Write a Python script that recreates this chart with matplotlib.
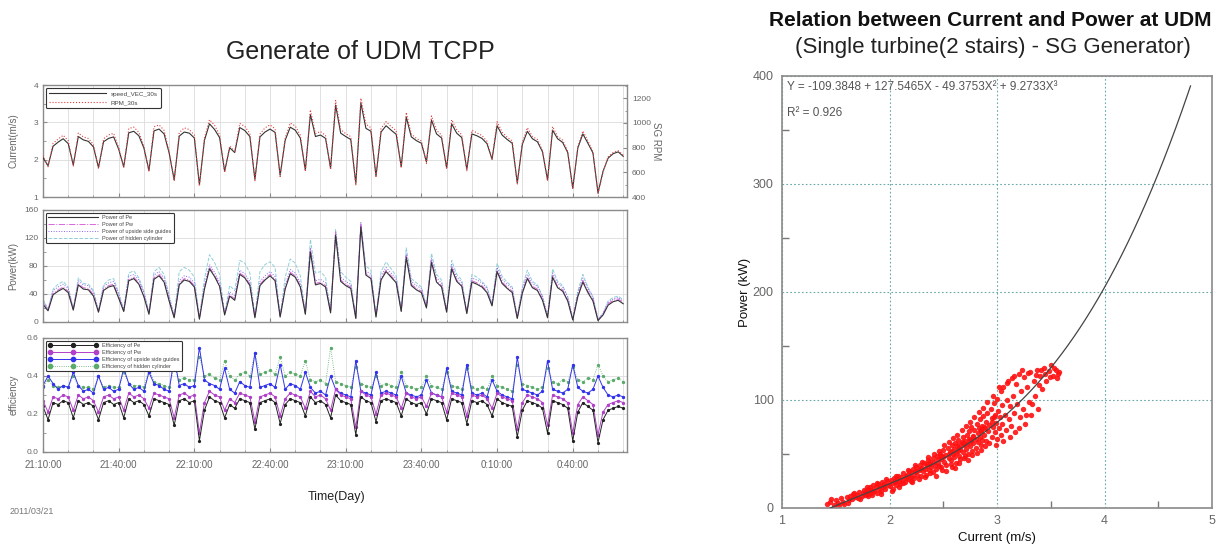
import numpy as np
import matplotlib
matplotlib.use("Agg")
import matplotlib.pyplot as plt
from matplotlib.ticker import MultipleLocator, FixedLocator, FixedFormatter

plt.rcParams['font.family'] = ['Liberation Sans', 'DejaVu Sans']

# ---------------------------------------------------------------- data
# 2-minute samples starting at 21:10:00 on 2011/03/21
step_min = 2
time_ticks = [0, 30, 60, 90, 120, 150, 180, 210]
time_labels = ["21:10:00", "21:40:00", "22:10:00", "22:40:00",
               "23:10:00", "23:40:00", "0:10:00", "0:40:00"]

current = [2.05, 1.84, 2.36, 2.47, 2.56, 2.43, 1.86, 2.62, 2.53, 2.49,
           2.34, 1.79, 2.48, 2.57, 2.61, 2.28, 1.81, 2.72, 2.76, 2.64,
           2.31, 1.71, 2.77, 2.82, 2.69, 2.18, 1.46, 2.63, 2.74, 2.71,
           2.58, 1.33, 2.52, 2.96, 2.81, 2.59, 1.69, 2.32, 2.19, 2.86,
           2.78, 2.62, 1.47, 2.61, 2.74, 2.82, 2.73, 1.58, 2.52, 2.87,
           2.79, 2.58, 1.72, 3.21, 2.62, 2.66, 2.57, 1.77, 3.46, 2.71,
           2.62, 2.54, 1.36, 3.52, 2.84, 2.76, 1.56, 2.74, 2.91, 2.79,
           2.68, 1.81, 3.14, 2.61, 2.51, 2.44, 1.94, 3.06, 2.69, 2.58,
           1.78, 2.96, 2.71, 2.59, 1.74, 2.69, 2.64, 2.57, 2.43, 2.01,
           2.91, 2.66, 2.54, 2.44, 1.38, 2.41, 2.76, 2.56, 2.48, 2.21,
           1.46, 2.79, 2.56, 2.46, 2.19, 1.24, 2.31, 2.69, 2.44, 2.18,
           1.11, 1.69, 2.04, 2.16, 2.21, 2.09]

rpm = [735, 645, 835, 868, 900, 856, 650, 918, 886, 874,
       824, 628, 871, 903, 915, 801, 636, 954, 966, 924,
       810, 604, 969, 984, 940, 766, 528, 921, 960, 946,
       901, 488, 878, 1026, 981, 904, 598, 813, 769, 996,
       972, 913, 532, 910, 960, 984, 952, 565, 878, 999,
       975, 901, 607, 1106, 913, 930, 898, 622, 1182, 946,
       913, 889, 498, 1200, 990, 961, 558, 955, 1011, 970,
       937, 634, 1085, 910, 875, 854, 673, 1056, 940, 901,
       625, 1026, 946, 904, 613, 940, 919, 898, 851, 700,
       1011, 925, 884, 854, 505, 840, 961, 890, 866, 775,
       529, 970, 890, 860, 769, 462, 805, 935, 854, 766,
       425, 600, 724, 760, 775, 739]

power_pe = [25, 16, 39, 44, 48, 42, 17, 53, 47, 46,
            37, 14, 45, 50, 52, 34, 15, 59, 62, 54,
            36, 11, 61, 66, 57, 30, 6, 53, 60, 58,
            50, 4, 47, 76, 65, 51, 10, 37, 31, 68,
            63, 52, 6, 52, 60, 66, 59, 7, 47, 69,
            64, 50, 11, 100, 53, 55, 50, 13, 124, 58,
            52, 48, 5, 136, 67, 62, 7, 60, 72, 64,
            56, 15, 92, 52, 46, 42, 20, 85, 57, 50,
            14, 76, 58, 51, 12, 57, 54, 50, 42, 23,
            72, 55, 48, 42, 5, 41, 62, 49, 45, 31,
            6, 64, 49, 44, 30, 3, 36, 57, 42, 30,
            2, 10, 24, 29, 31, 26]

power_pw = [27, 17, 41, 46, 50, 44, 18, 55, 49, 48,
            39, 15, 47, 52, 54, 36, 16, 61, 64, 56,
            38, 12, 63, 68, 59, 32, 7, 55, 62, 60,
            52, 5, 49, 78, 67, 53, 11, 39, 33, 70,
            65, 54, 7, 54, 62, 68, 61, 8, 49, 71,
            66, 52, 12, 104, 55, 57, 52, 14, 128, 60,
            54, 50, 6, 140, 69, 64, 8, 62, 74, 66,
            58, 16, 95, 54, 48, 44, 21, 88, 59, 52,
            15, 78, 60, 53, 13, 59, 56, 52, 44, 24,
            74, 57, 50, 44, 6, 43, 64, 51, 47, 33,
            7, 66, 51, 46, 32, 4, 38, 59, 44, 32,
            3, 11, 26, 31, 33, 28]

power_guide = [31, 18, 45, 50, 54, 48, 19, 59, 53, 52,
               43, 16, 51, 56, 58, 40, 17, 65, 68, 60,
               42, 13, 67, 72, 63, 36, 8, 59, 66, 64,
               56, 6, 53, 82, 71, 57, 12, 43, 37, 74,
               69, 58, 8, 58, 66, 72, 65, 9, 53, 75,
               70, 56, 13, 106, 59, 61, 56, 15, 130, 64,
               58, 54, 7, 142, 73, 68, 9, 66, 78, 70,
               62, 17, 98, 58, 52, 48, 22, 91, 63, 56,
               16, 82, 64, 57, 14, 63, 60, 56, 48, 25,
               78, 61, 54, 48, 7, 47, 68, 55, 51, 37,
               8, 70, 55, 50, 36, 5, 42, 63, 48, 36,
               4, 12, 28, 33, 35, 30]

power_hidden = [33, 18, 47, 54, 58, 50, 19, 63, 55, 54,
                45, 16, 53, 60, 62, 42, 17, 70, 73, 63,
                44, 13, 72, 78, 68, 38, 8, 72, 78, 74,
                64, 6, 62, 96, 85, 68, 12, 52, 45, 88,
                84, 70, 8, 72, 82, 86, 78, 9, 64, 90,
                84, 66, 13, 118, 70, 72, 64, 15, 132, 72,
                64, 58, 7, 140, 80, 74, 9, 72, 86, 76,
                66, 17, 106, 62, 56, 50, 22, 98, 68, 60,
                16, 88, 68, 60, 14, 68, 64, 58, 50, 26,
                84, 65, 57, 50, 7, 50, 74, 58, 53, 37,
                8, 76, 58, 52, 36, 5, 44, 68, 50, 36,
                4, 12, 30, 35, 37, 32]

eff_pe = [0.24, 0.17, 0.26, 0.25, 0.27, 0.26, 0.18, 0.27, 0.25, 0.26,
          0.24, 0.17, 0.26, 0.27, 0.25, 0.26, 0.18, 0.28, 0.26, 0.27,
          0.25, 0.19, 0.28, 0.27, 0.26, 0.25, 0.14, 0.27, 0.28, 0.26,
          0.27, 0.06, 0.22, 0.29, 0.27, 0.26, 0.18, 0.25, 0.23, 0.28,
          0.27, 0.26, 0.12, 0.26, 0.27, 0.28, 0.26, 0.15, 0.25, 0.28,
          0.27, 0.26, 0.19, 0.29, 0.26, 0.27, 0.25, 0.18, 0.30, 0.27,
          0.26, 0.25, 0.09, 0.29, 0.27, 0.26, 0.16, 0.27, 0.28, 0.27,
          0.26, 0.19, 0.28, 0.26, 0.25, 0.26, 0.20, 0.28, 0.27, 0.26,
          0.17, 0.28, 0.27, 0.26, 0.15, 0.27, 0.26, 0.27, 0.25, 0.19,
          0.28, 0.26, 0.25, 0.24, 0.08, 0.22, 0.27, 0.26, 0.25, 0.23,
          0.10, 0.27, 0.26, 0.25, 0.23, 0.06, 0.21, 0.26, 0.24, 0.22,
          0.05, 0.17, 0.22, 0.23, 0.24, 0.23]

eff_pw = [0.27, 0.21, 0.29, 0.28, 0.30, 0.29, 0.22, 0.30, 0.28, 0.29,
          0.27, 0.21, 0.29, 0.30, 0.28, 0.29, 0.22, 0.31, 0.29, 0.30,
          0.28, 0.23, 0.31, 0.30, 0.29, 0.28, 0.18, 0.30, 0.31, 0.29,
          0.30, 0.10, 0.26, 0.32, 0.30, 0.29, 0.22, 0.28, 0.26, 0.31,
          0.30, 0.29, 0.16, 0.29, 0.30, 0.31, 0.29, 0.19, 0.28, 0.31,
          0.30, 0.29, 0.23, 0.32, 0.29, 0.30, 0.28, 0.22, 0.33, 0.30,
          0.29, 0.28, 0.13, 0.32, 0.30, 0.29, 0.20, 0.30, 0.31, 0.30,
          0.29, 0.23, 0.31, 0.29, 0.28, 0.29, 0.24, 0.31, 0.30, 0.29,
          0.21, 0.31, 0.30, 0.29, 0.19, 0.30, 0.29, 0.30, 0.28, 0.23,
          0.31, 0.29, 0.28, 0.27, 0.12, 0.26, 0.30, 0.29, 0.28, 0.26,
          0.14, 0.30, 0.29, 0.28, 0.26, 0.10, 0.25, 0.29, 0.27, 0.25,
          0.09, 0.21, 0.25, 0.26, 0.27, 0.26]

eff_guide = [0.35, 0.40, 0.36, 0.33, 0.35, 0.34, 0.42, 0.35, 0.32, 0.33,
             0.31, 0.40, 0.33, 0.34, 0.32, 0.33, 0.44, 0.36, 0.33, 0.34,
             0.32, 0.42, 0.36, 0.35, 0.33, 0.32, 0.50, 0.35, 0.36, 0.34,
             0.35, 0.55, 0.38, 0.36, 0.35, 0.33, 0.44, 0.33, 0.31, 0.37,
             0.35, 0.34, 0.52, 0.34, 0.35, 0.36, 0.34, 0.46, 0.33, 0.36,
             0.35, 0.33, 0.42, 0.34, 0.31, 0.32, 0.30, 0.40, 0.33, 0.31,
             0.30, 0.29, 0.48, 0.32, 0.31, 0.30, 0.42, 0.31, 0.32, 0.31,
             0.30, 0.40, 0.31, 0.30, 0.29, 0.30, 0.38, 0.31, 0.30, 0.29,
             0.44, 0.32, 0.31, 0.30, 0.46, 0.31, 0.30, 0.31, 0.29, 0.38,
             0.32, 0.30, 0.29, 0.28, 0.50, 0.33, 0.32, 0.31, 0.30, 0.32,
             0.48, 0.33, 0.32, 0.31, 0.33, 0.46, 0.34, 0.32, 0.31, 0.33,
             0.40, 0.34, 0.30, 0.29, 0.30, 0.29]

eff_hidden = [0.34, 0.38, 0.35, 0.34, 0.35, 0.34, 0.40, 0.35, 0.34, 0.34,
              0.33, 0.40, 0.34, 0.35, 0.34, 0.34, 0.42, 0.36, 0.35, 0.35,
              0.34, 0.44, 0.37, 0.36, 0.35, 0.34, 0.45, 0.38, 0.39, 0.38,
              0.38, 0.50, 0.40, 0.41, 0.39, 0.38, 0.48, 0.40, 0.38, 0.41,
              0.42, 0.40, 0.52, 0.41, 0.42, 0.43, 0.41, 0.50, 0.40, 0.42,
              0.41, 0.40, 0.48, 0.38, 0.37, 0.38, 0.36, 0.55, 0.37, 0.36,
              0.35, 0.34, 0.45, 0.36, 0.35, 0.34, 0.40, 0.35, 0.36, 0.35,
              0.34, 0.42, 0.35, 0.34, 0.33, 0.34, 0.40, 0.35, 0.34, 0.33,
              0.42, 0.35, 0.34, 0.33, 0.44, 0.34, 0.33, 0.34, 0.33, 0.40,
              0.35, 0.34, 0.33, 0.32, 0.46, 0.36, 0.35, 0.34, 0.33, 0.34,
              0.44, 0.37, 0.36, 0.38, 0.37, 0.45, 0.38, 0.37, 0.39, 0.38,
              0.46, 0.40, 0.37, 0.38, 0.39, 0.37]

# measured (current m/s, power kW) pairs used for the regression
survey_pairs = [
    (1.42, 4), (1.45, 6), (1.48, 3), (1.50, 7), (1.52, 5), (1.55, 9), (1.57, 6),
    (1.58, 4), (1.60, 10), (1.62, 7),
    (1.63, 11), (1.65, 8), (1.66, 13), (1.68, 10), (1.70, 12), (1.71, 9), (1.72, 15),
    (1.74, 11), (1.75, 14), (1.76, 17), (1.77, 12), (1.78, 16), (1.79, 13), (1.80, 18),
    (1.80, 11),
    (1.81, 15), (1.82, 19), (1.83, 14), (1.84, 17), (1.85, 21), (1.86, 16), (1.87, 19),
    (1.88, 14), (1.89, 22), (1.90, 18), (1.91, 20), (1.92, 16), (1.93, 24), (1.94, 19),
    (1.95, 22), (1.96, 18), (1.98, 25), (1.99, 21),
    (2.00, 20), (2.01, 26), (2.02, 23), (2.03, 18), (2.04, 28), (2.05, 24), (2.06, 21),
    (2.07, 27), (2.08, 30), (2.09, 25), (2.10, 22), (2.11, 29), (2.12, 26), (2.13, 32),
    (2.14, 24), (2.15, 28), (2.16, 31), (2.17, 27), (2.18, 34), (2.19, 29), (2.20, 25),
    (2.20, 33),
    (2.21, 30), (2.22, 36), (2.23, 28), (2.24, 33), (2.25, 38), (2.26, 31), (2.27, 35),
    (2.28, 40), (2.29, 30), (2.30, 37), (2.31, 34), (2.32, 42), (2.33, 36), (2.34, 31),
    (2.35, 39), (2.36, 44), (2.37, 35), (2.38, 41), (2.39, 38), (2.40, 46), (2.40, 33),
    (2.41, 43), (2.42, 40), (2.43, 36), (2.44, 48),
    (2.45, 42), (2.46, 39), (2.47, 50), (2.48, 45), (2.49, 35), (2.50, 47), (2.50, 54),
    (2.51, 43), (2.52, 49), (2.53, 40), (2.54, 56), (2.55, 46), (2.56, 52), (2.57, 44),
    (2.58, 58), (2.58, 38), (2.59, 50), (2.60, 55), (2.60, 47), (2.61, 60), (2.62, 51),
    (2.62, 42), (2.63, 57), (2.64, 53), (2.64, 63), (2.65, 48), (2.65, 58), (2.66, 45),
    (2.66, 55), (2.67, 61),
    (2.68, 52), (2.68, 66), (2.69, 58), (2.70, 48), (2.70, 62), (2.71, 55), (2.72, 68),
    (2.72, 59), (2.73, 50), (2.74, 64), (2.74, 71), (2.75, 57), (2.76, 62), (2.76, 75),
    (2.77, 53), (2.78, 67), (2.78, 60), (2.79, 72), (2.80, 64), (2.80, 56), (2.81, 78),
    (2.82, 69), (2.82, 61), (2.83, 74), (2.84, 66), (2.84, 82), (2.85, 58), (2.85, 71),
    (2.86, 76), (2.86, 63),
    (2.87, 85), (2.88, 68), (2.89, 74), (2.90, 80), (2.90, 62), (2.91, 88), (2.92, 71),
    (2.93, 77), (2.94, 92), (2.95, 66), (2.95, 83), (2.96, 75), (2.97, 97), (2.98, 70),
    (2.98, 86), (2.99, 79), (3.00, 101), (3.00, 64), (3.01, 90), (3.02, 74), (3.03, 84),
    (3.04, 108), (3.04, 68), (3.05, 95), (3.05, 78),
    (3.06, 112), (3.07, 86), (3.08, 72), (3.09, 100), (3.10, 118), (3.11, 82), (3.12, 94),
    (3.13, 76), (3.14, 120), (3.15, 104), (3.16, 88), (3.17, 70), (3.18, 115), (3.19, 96),
    (3.20, 124), (3.21, 84), (3.22, 108), (3.24, 92), (3.25, 121), (3.26, 78), (3.28, 112),
    (3.30, 98),
    (3.31, 126), (3.32, 86), (3.34, 118), (3.35, 104), (3.37, 128), (3.38, 92), (3.40, 122),
    (3.42, 110), (3.44, 130), (3.46, 118), (3.48, 127), (3.50, 132), (3.52, 122),
    (3.55, 128), (3.57, 124),
    (1.46, 8), (1.53, 3), (1.61, 5), (1.67, 14), (1.73, 8), (1.79, 19), (1.84, 12),
    (1.88, 23), (1.92, 13), (1.97, 27), (2.02, 16), (2.06, 30), (2.09, 19), (2.13, 23),
    (2.17, 35), (2.21, 24), (2.24, 40), (2.27, 27), (2.30, 43), (2.33, 29), (2.36, 47),
    (2.38, 32), (2.41, 50), (2.43, 30), (2.46, 53), (2.48, 38), (2.51, 58), (2.53, 34),
    (2.55, 61), (2.57, 41), (2.59, 65), (2.61, 37), (2.63, 68), (2.65, 42), (2.67, 72),
    (2.69, 46), (2.71, 76), (2.73, 44), (2.75, 80), (2.77, 49), (2.79, 84), (2.81, 51),
    (2.83, 89), (2.85, 54), (2.87, 93), (2.89, 57), (2.91, 98), (2.93, 60), (2.96, 104),
    (2.99, 58), (3.02, 112), (3.06, 62), (3.09, 116), (3.12, 66), (3.16, 122), (3.20, 74),
    (3.23, 128), (3.27, 86), (3.29, 125), (3.33, 96), (3.36, 123), (3.39, 114),
    (3.41, 128), (3.45, 124), (3.49, 121), (3.53, 130), (3.56, 120), (3.58, 126),
    (2.25, 34), (2.35, 41), (2.45, 45), (2.55, 50), (2.65, 56), (2.75, 63), (2.85, 72),
    (2.95, 80), (2.15, 30), (2.05, 25), (1.95, 20), (1.85, 16), (2.28, 36), (2.38, 43),
    (2.48, 48), (2.58, 53), (2.68, 60), (2.78, 66), (2.88, 75), (2.97, 84),
]

# cubic fit of power against current speed
fit_coef = [-109.3848, 127.5465, -49.3753, 9.2733]   # c0 + c1 X + c2 X^2 + c3 X^3
fit_r2 = 0.926
fit_range = (1.45, 4.8)

# ---------------------------------------------------------------- figure
W, H = 1226, 549
fig = plt.figure(figsize=(W / 100, H / 100), dpi=100)


def box(l, t, r, b):
    return [l / W, 1 - b / H, (r - l) / W, (b - t) / H]


minutes = np.arange(len(current)) * step_min
GRAY = '#666666'
SPINE = '#8a8a8a'


def style_left(ax, ymin, ymax, major, minor, labels=False):
    ax.set_xlim(0, 231.5)
    ax.set_ylim(ymin, ymax)
    ax.xaxis.set_major_locator(FixedLocator(time_ticks))
    ax.xaxis.set_minor_locator(MultipleLocator(10))
    ax.yaxis.set_major_locator(MultipleLocator(major))
    ax.yaxis.set_minor_locator(MultipleLocator(minor))
    ax.grid(True, which='both', axis='x', color='#dcdcdc', lw=0.6)
    ax.grid(True, which='major', axis='y', color='#dcdcdc', lw=0.6)
    ax.set_axisbelow(True)
    ax.tick_params(which='both', direction='in', colors=SPINE, labelcolor=GRAY,
                   labelsize=6, length=3)
    ax.tick_params(which='minor', length=1.8)
    for s in ax.spines.values():
        s.set_color(SPINE)
        s.set_linewidth(1.0)
    if labels:
        ax.xaxis.set_major_formatter(FixedFormatter(time_labels))
        ax.tick_params(axis='x', labelsize=7, pad=6)
    else:
        ax.tick_params(axis='x', labelbottom=False)


def style_legend(leg):
    leg.set_zorder(10)
    leg.get_frame().set_linewidth(0.8)
    for t in leg.get_texts():
        t.set_color('#444444')


# --- top: current speed and generator RPM
ax1 = fig.add_axes(box(43, 85, 627, 197))
style_left(ax1, 1, 4, 1, 0.5)
ax1.set_yticks([1, 2, 3, 4])
ax1.set_yticklabels(['1', '2', '3', '4'])
l_cur, = ax1.plot(minutes, current, color='#333333', lw=0.8, zorder=3)
ax1.set_ylabel('Current(m/s)', fontsize=7, color=GRAY)
ax1.yaxis.set_label_coords(-0.042, 0.5)

ax1r = ax1.twinx()
ax1r.set_ylim(400, 1307)
ax1r.yaxis.set_major_locator(FixedLocator([400, 600, 800, 1000, 1200]))
ax1r.yaxis.set_minor_locator(MultipleLocator(100))
ax1r.tick_params(which='both', direction='in', colors=SPINE, labelcolor=GRAY,
                 labelsize=6, length=3)
ax1r.tick_params(which='minor', length=1.8)
l_rpm, = ax1r.plot(minutes, rpm, color='#e04040', lw=0.8, ls=':', zorder=2)
ax1r.set_ylabel('SG RPM', fontsize=7, color=GRAY, rotation=270)
ax1r.yaxis.set_label_coords(1.058, 0.5)
for s in ax1r.spines.values():
    s.set_visible(False)
leg1 = ax1r.legend([l_cur, l_rpm], ['speed_VEC_30s', 'RPM_30s'], loc='upper left',
                   fontsize=4.5, handlelength=9, borderpad=0.5, labelspacing=0.5,
                   fancybox=True, edgecolor='#333333', framealpha=1)
style_legend(leg1)

# --- middle: power
ax2 = fig.add_axes(box(43, 210, 627, 322))
style_left(ax2, 0, 160, 40, 20)
ax2.plot(minutes, power_hidden, color='#8fd0d8', lw=0.7, ls='--', label='Power of hidden cylinder')
ax2.plot(minutes, power_guide, color='#8866ee', lw=0.7, ls=':', label='Power of upside side guides')
ax2.plot(minutes, power_pw, color='#dd66dd', lw=0.7, ls='-.', label='Power of Pw')
ax2.plot(minutes, power_pe, color='#333333', lw=0.8, label='Power of Pe')
h, lb = ax2.get_legend_handles_labels()
leg2 = ax2.legend(h[::-1], lb[::-1], loc='upper left', fontsize=4, handlelength=9,
                  borderpad=0.4, labelspacing=0.35, fancybox=True,
                  edgecolor='#333333', framealpha=1)
style_legend(leg2)
ax2.set_ylabel('Power(kW)', fontsize=7, color=GRAY)
ax2.yaxis.set_label_coords(-0.042, 0.5)

# --- bottom: efficiency
ax3 = fig.add_axes(box(43, 338, 627, 452))
style_left(ax3, 0, 0.6, 0.2, 0.1, labels=True)
ax3.set_yticks([0.0, 0.2, 0.4, 0.6])
ax3.set_yticklabels(['0.0', '0.2', '0.4', '0.6'])
ax3.plot(minutes, eff_hidden, color='#5aaa6a', lw=0.6, ls=':', marker='o', ms=1.4,
         label='Efficiency of hidden cylinder')
ax3.plot(minutes, eff_guide, color='#3333ee', lw=0.7, marker='o', ms=1.4,
         label='Efficiency of upside side guides')
ax3.plot(minutes, eff_pw, color='#b040c8', lw=0.7, marker='o', ms=1.4,
         label='Efficiency of Pw')
ax3.plot(minutes, eff_pe, color='#222222', lw=0.7, marker='o', ms=1.3,
         label='Efficiency of Pe')
h, lb = ax3.get_legend_handles_labels()
leg3 = ax3.legend(h[::-1], lb[::-1], loc='upper left', fontsize=4, handlelength=9,
                  borderpad=0.4, labelspacing=0.35, fancybox=True, numpoints=3,
                  edgecolor='#333333', framealpha=1, markerscale=2.2)
style_legend(leg3)
ax3.set_ylabel('efficiency', fontsize=7, color=GRAY)
ax3.yaxis.set_label_coords(-0.042, 0.5)

fig.text(360 / W, 1 - 52 / H, 'Generate of UDM TCPP', ha='center', va='center',
         fontsize=18, color='#222222')
fig.text(337 / W, 1 - 497 / H, 'Time(Day)', ha='center', va='center',
         fontsize=9, color='#222222')
fig.text(10 / W, 1 - 511 / H, '2011/03/21', ha='left', va='center',
         fontsize=6.5, color='#777777')

# ---------------------------------------------------------------- right chart
axr = fig.add_axes(box(782, 76, 1212, 508))
sx = [p[0] for p in survey_pairs]
sy = [p[1] for p in survey_pairs]
axr.scatter(sx, sy, s=15, c='#ff1010', marker='o', linewidths=0, alpha=0.9,
            zorder=2)
xc = np.linspace(fit_range[0], fit_range[1], 300)
yc = np.polyval(fit_coef[::-1], xc)
axr.plot(xc, yc, color='#444444', lw=0.9, zorder=3)

axr.set_xlim(1, 5)
axr.set_ylim(0, 400)
axr.xaxis.set_major_locator(MultipleLocator(1))
axr.xaxis.set_minor_locator(MultipleLocator(0.5))
axr.yaxis.set_major_locator(MultipleLocator(100))
axr.yaxis.set_minor_locator(MultipleLocator(50))
axr.grid(True, which='major', color='#6aa8a8', lw=0.8, ls=(0, (1.5, 2)))
axr.set_axisbelow(True)
axr.tick_params(which='both', direction='in', colors='#777777', labelcolor='#666666',
                labelsize=9, length=0)
axr.tick_params(which='minor', length=5, width=1)
axr.tick_params(axis='x', pad=5)
axr.tick_params(axis='y', pad=6)
for s in axr.spines.values():
    s.set_color('#8a8a8a')
    s.set_linewidth(1.2)

axr.set_xlabel('Current (m/s)', fontsize=9.5, color='#111111', labelpad=4)
axr.set_ylabel('Power (kW)', fontsize=9.5, color='#111111', labelpad=1)

eq = 'Y = -109.3848 + 127.5465X - 49.3753X\u00b2 + 9.2733X\u00b3'
axr.text(0.012, 0.975, eq, transform=axr.transAxes, ha='left', va='center',
         fontsize=8.5, color='#555555')
axr.text(0.012, 0.914, 'R\u00b2 = %.3f' % fit_r2, transform=axr.transAxes,
         ha='left', va='center', fontsize=8.5, color='#555555')

fig.text(990 / W, 1 - 20 / H, 'Relation between Current and Power at UDM',
         ha='center', va='center', fontsize=15, fontweight='bold', color='#111111')
fig.text(993 / W, 1 - 48 / H, '(Single turbine(2 stairs) - SG Generator)',
         ha='center', va='center', fontsize=16, color='#222222')

fig.savefig('out.png', dpi=100, facecolor='white')
